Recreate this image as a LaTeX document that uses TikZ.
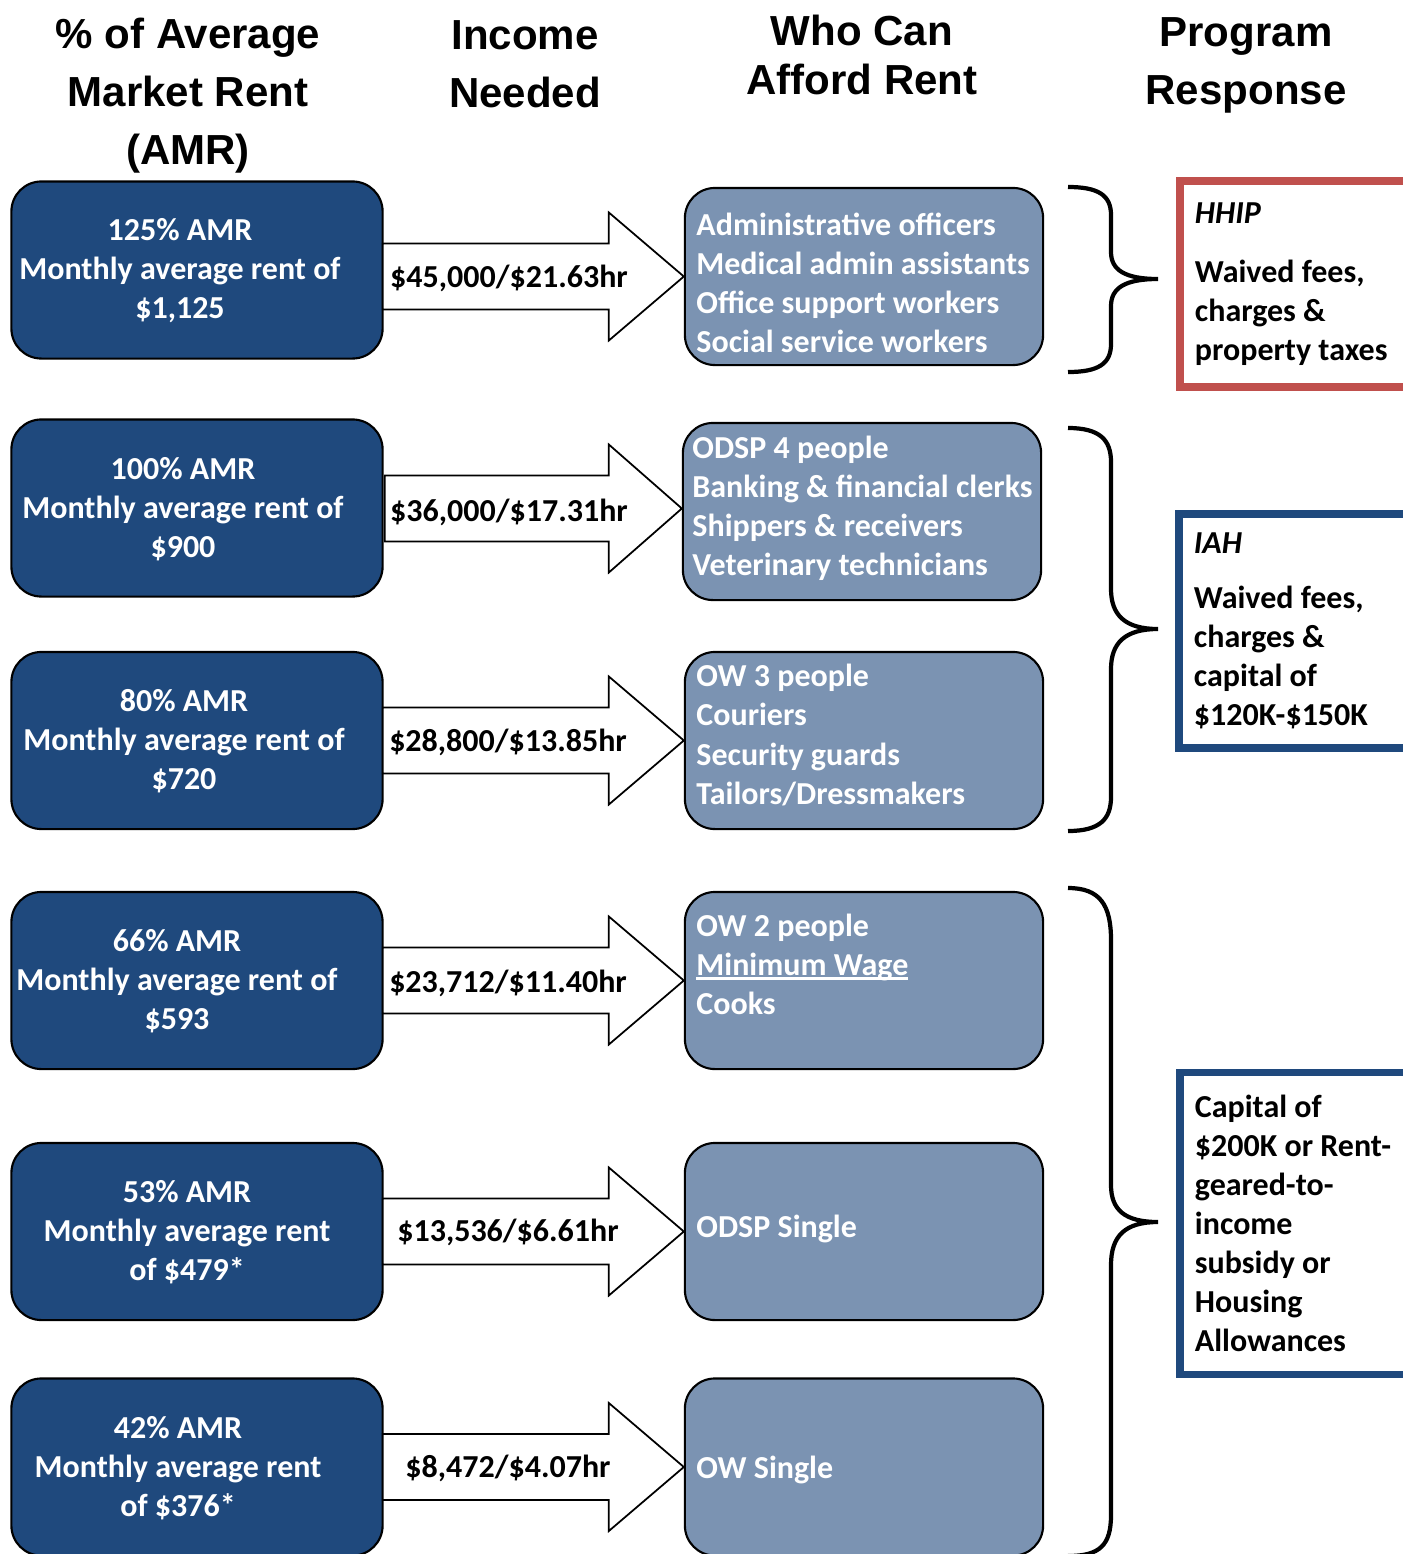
\documentclass[tikz,border=0pt]{standalone}
\usepackage{fontspec}
\setmainfont{Carlito}
\newfontfamily\headfont{Liberation Sans}
\definecolor{amrblue}{HTML}{1F497D}
\definecolor{whoblue}{HTML}{7B93B2}
\definecolor{hhipred}{HTML}{C0504D}
\definecolor{iahblue}{HTML}{1F497D}
\tikzset{
  amrbox/.style={rectangle, rounded corners=0.3cm, draw=black, line width=0.6pt, fill=amrblue, minimum width=3.71cm, minimum height=1.77cm},
  amrtext/.style={text=white, align=center, font=\bfseries\fontsize{9.1}{11.1}\selectfont},
  whobox/.style={rectangle, rounded corners=0.3cm, draw=black, line width=0.6pt, fill=whoblue, minimum width=3.58cm, minimum height=1.77cm},
  whotext/.style={anchor=west, text=white, align=left, font=\bfseries\fontsize{9.1}{11.1}\selectfont},
  incometext/.style={font=\bfseries\fontsize{9.1}{11.1}\selectfont},
  fatarrow/.style={draw=black, fill=white, line width=0.5pt},
  headtext/.style={align=center, font=\headfont\bfseries\fontsize{11.95}{16.5}\selectfont},
  respbox/.style={rectangle, fill=white, line width=0.075cm, minimum width=2.5cm, text width=2.2cm, align=flush left, font=\bfseries\fontsize{9.1}{11.1}\selectfont},
  respbrace/.style={line width=1.2pt}
}
\newcommand{\wageline}[1]{\setbox0\hbox{#1}\rlap{\rule[-0.14em]{\wd0}{0.8pt}}\box0}
\begin{document}
\begin{tikzpicture}[x=0.01cm, y=-0.01cm]
    \useasboundingbox (0,0) rectangle (1403,1554);
    \clip (0,0) rectangle (1403,1554);

    % Column headings
    \node (H1) [headtext] at (188,96) {\% of Average\\Market Rent\\(AMR)};
    \node (H2) [headtext] at (525,64) {Income\\Needed};
    \node (H3) [headtext, font=\headfont\bfseries\fontsize{11.95}{14.2}\selectfont] at (862,55) {Who Can\\Afford Rent};
    \node (H4) [headtext] at (1246,65) {Program\\Response};

    % 125% AMR
    \node (A1) [amrbox] at (197,270) {};
    \node (A1t) [amrtext] at (180,271) {125\% AMR\\Monthly average rent of\\\$1,125};
    \node (W1) [whobox] at (864,276.5) {};
    \node (W1t) [whotext] at (684,283) {Administrative officers\\Medical admin assistants\\Office support workers\\Social service workers};
    \draw[fatarrow] (W1.west) -- ++(-75,-64) -- ++(0,31) -- ++(-226,0) -- ++(0,66) -- ++(226,0) -- ++(0,31) -- cycle;
    \node (I1) [incometext] at (509,278) {\$45,000/\$21.63hr};

    % 100% AMR
    \node (A2) [amrbox] at (197,508) {};
    \node (A2t) [amrtext] at (183,509) {100\% AMR\\Monthly average rent of\\\$900};
    \node (W2) [whobox] at (862,511.5) {};
    \node (W2t) [whotext] at (680,508) {ODSP 4 people\\Banking \& financial clerks\\Shippers \& receivers\\Veterinary technicians};
    \draw[fatarrow] (W2.west) ++(0,-3) -- ++(-73,-64) -- ++(0,31) -- ++(-224,0) -- ++(0,66) -- ++(224,0) -- ++(0,31) -- cycle;
    \node (I2) [incometext] at (509,512) {\$36,000/\$17.31hr};

    % 80% AMR
    \node (A3) [amrbox] at (197,740.5) {};
    \node (A3t) [amrtext] at (184,741) {80\% AMR\\Monthly average rent of\\\$720};
    \node (W3) [whobox] at (864,740.5) {};
    \node (W3t) [whotext] at (684,735) {OW 3 people\\Couriers\\Security guards\\Tailors/Dressmakers};
    \draw[fatarrow] (W3.west) -- ++(-75,-64) -- ++(0,31) -- ++(-226,0) -- ++(0,66) -- ++(226,0) -- ++(0,31) -- cycle;
    \node (I3) [incometext] at (508,742) {\$28,800/\$13.85hr};

    % 66% AMR
    \node (A4) [amrbox] at (197,980.5) {};
    \node (A4t) [amrtext] at (177,981) {66\% AMR\\Monthly average rent of\\\$593};
    \node (W4) [whobox] at (864,980.5) {};
    \node (W4t) [whotext] at (684,964) {OW 2 people\\\wageline{Minimum Wage}\\Cooks};
    \draw[fatarrow] (W4.west) -- ++(-75,-64) -- ++(0,31) -- ++(-226,0) -- ++(0,66) -- ++(226,0) -- ++(0,31) -- cycle;
    \node (I4) [incometext] at (508,983) {\$23,712/\$11.40hr};

    % 53% AMR
    \node (A5) [amrbox] at (197,1231.5) {};
    \node (A5t) [amrtext] at (187,1232) {53\% AMR\\Monthly average rent\\of \$479*};
    \node (W5) [whobox] at (864,1231.5) {};
    \node (W5t) [whotext] at (684,1229) {ODSP Single};
    \draw[fatarrow] (W5.west) -- ++(-75,-64) -- ++(0,31) -- ++(-226,0) -- ++(0,66) -- ++(226,0) -- ++(0,31) -- cycle;
    \node (I5) [incometext] at (508,1232) {\$13,536/\$6.61hr};

    % 42% AMR
    \node (A6) [amrbox] at (197,1467) {};
    \node (A6t) [amrtext] at (178,1468) {42\% AMR\\Monthly average rent\\of \$376*};
    \node (W6) [whobox] at (864,1467) {};
    \node (W6t) [whotext] at (684,1470) {OW Single};
    \draw[fatarrow] (W6.west) -- ++(-75,-64) -- ++(0,31) -- ++(-226,0) -- ++(0,66) -- ++(226,0) -- ++(0,31) -- cycle;
    \node (I6) [incometext] at (508,1468) {\$8,472/\$4.07hr};

    % Braces
    \draw[respbrace] (1068,187) .. controls (1098,187) and (1111,195) .. (1111,215) -- (1111,252) .. controls (1111,270) and (1125,279) .. (1158,279) .. controls (1125,279) and (1111,288) .. (1111,306) -- (1111,344) .. controls (1111,364) and (1098,372) .. (1068,372);
    \draw[respbrace] (1068,428) .. controls (1100,428) and (1111,440) .. (1111,462) -- (1111,589) .. controls (1111,615) and (1125,629) .. (1158,629) .. controls (1125,629) and (1111,643) .. (1111,669) -- (1111,797) .. controls (1111,819) and (1100,831) .. (1068,831);
    \draw[respbrace] (1068,888) .. controls (1100,888) and (1111,905) .. (1111,940) -- (1111,1185) .. controls (1111,1210) and (1125,1222) .. (1158,1222) .. controls (1125,1222) and (1111,1236) .. (1111,1265) -- (1111,1515) .. controls (1111,1545) and (1100,1556) .. (1068,1556);

    % Program response
    \node (P1) [respbox, draw=hhipred, line width=0.08cm, minimum height=2.05cm] at (1305,284) {\textit{HHIP}\\[0.2cm]Waived fees,\\charges \&\\property taxes};
    \node (P2) [respbox, draw=iahblue, minimum height=2.34cm] at (1304,631) {\textit{IAH}\\[0.16cm]Waived fees,\\charges \&\\capital of\\\$120K-\$150K};
    \node (P3) [respbox, draw=iahblue, minimum height=3.02cm] at (1305,1223.5) {Capital of\\\$200K or Rent-\\geared-to-\\income\\subsidy or\\Housing\\Allowances};
\end{tikzpicture}
\end{document}
